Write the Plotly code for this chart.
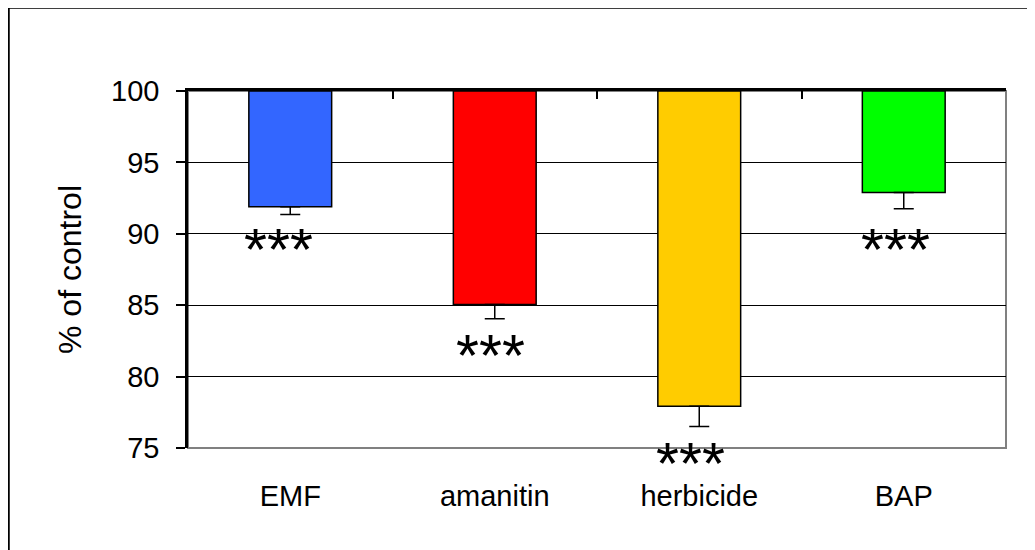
import plotly.graph_objects as go

categories = ["EMF", "amanitin", "herbicide", "BAP"]
values = [91.9, 85.05, 77.93, 92.9]
errors_down = [0.55, 1.0, 1.43, 1.14]
bar_colors = ["#3366FF", "#FF0000", "#FFCC00", "#00FF00"]
signif = ["***", "***", "***", "***"]
signif_y = [88.9, 81.45, 73.85, 88.9]
signif_xshift = [-12, -4, -9, -8]
base_value = 100
y_min, y_max = 75, 100
y_ticks = [75, 80, 85, 90, 95, 100]
boundaries = [0.5, 1.5, 2.5, 3.5]

FONT = "Liberation Sans, Arial, sans-serif"

# figure geometry (page body adds an 8px margin)
W, H = 1027, 542
ML, MR, MT, MB = 180, 29, 83, 102
PW, PH = W - ML - MR, H - MT - MB

fig = go.Figure()
fig.add_trace(go.Bar(
    x=categories,
    y=[v - base_value for v in values],
    base=[base_value] * len(values),
    marker=dict(color=bar_colors, line=dict(color="black", width=1.5)),
    width=0.405,
    showlegend=False,
    hoverinfo="skip",
))
fig.add_trace(go.Scatter(
    x=categories,
    y=values,
    mode="markers",
    marker=dict(size=1, color="rgba(0,0,0,0)"),
    error_y=dict(type="data", symmetric=False, array=[0] * len(values),
                 arrayminus=errors_down, color="black", thickness=1.5, width=10),
    showlegend=False,
    hoverinfo="skip",
))
fig.add_trace(go.Scatter(x=boundaries, y=[base_value] * len(boundaries), xaxis="x2",
                         mode="markers", marker=dict(size=1, color="rgba(0,0,0,0)"),
                         showlegend=False, hoverinfo="skip"))

for c, s, sy, dx in zip(categories, signif, signif_y, signif_xshift):
    fig.add_annotation(x=c, xref="x", y=(sy - y_min) / (y_max - y_min), yref="paper",
                       text=s, showarrow=False, xshift=dx,
                       font=dict(family=FONT, size=59, color="black"),
                       yanchor="middle")

# black border of the white panel (left/top)
fig.add_shape(type="rect", xref="paper", yref="paper",
              x0=(0.5 - ML) / PW, x1=(W + 20 - ML) / PW,
              y0=(MB - H - 20) / PH, y1=(H - MB + 0.5) / PH,
              fillcolor="rgba(0,0,0,0)", line=dict(color="black", width=2.5), layer="below")
# gray plot-area border (right / bottom)
fig.add_shape(type="rect", xref="x domain", yref="y domain", x0=0, x1=1, y0=0, y1=1,
              line=dict(color="#808080", width=2), fillcolor="rgba(0,0,0,0)", layer="below")

fig.update_layout(
    width=W, height=H,
    margin=dict(l=ML, r=MR, t=MT, b=MB, pad=0),
    paper_bgcolor="white",
    plot_bgcolor="white",
    font=dict(family=FONT, size=29, color="black"),
    xaxis=dict(range=[-0.5, 3.5], showgrid=False, ticks="", showline=False,
               tickfont=dict(size=29), ticklabelstandoff=28, zeroline=False),
    xaxis2=dict(range=[-0.5, 3.5], overlaying="x", side="top", anchor="y",
                tickmode="array", tickvals=boundaries, ticks="inside", ticklen=8,
                tickwidth=2, tickcolor="black", showticklabels=False,
                showline=True, linecolor="black", linewidth=2.5, showgrid=False,
                zeroline=False),
    yaxis=dict(range=[y_min, y_max], tickmode="array", tickvals=y_ticks,
               ticks="outside", ticklen=9, tickwidth=1.5, tickcolor="black",
               showline=True, linecolor="black", linewidth=2.5,
               showgrid=True, gridcolor="black", gridwidth=1, zeroline=False,
               tickfont=dict(size=29), ticklabelstandoff=11,
               title=dict(text="% of control", font=dict(size=32), standoff=20)),
)

fig.write_html("out.html")
